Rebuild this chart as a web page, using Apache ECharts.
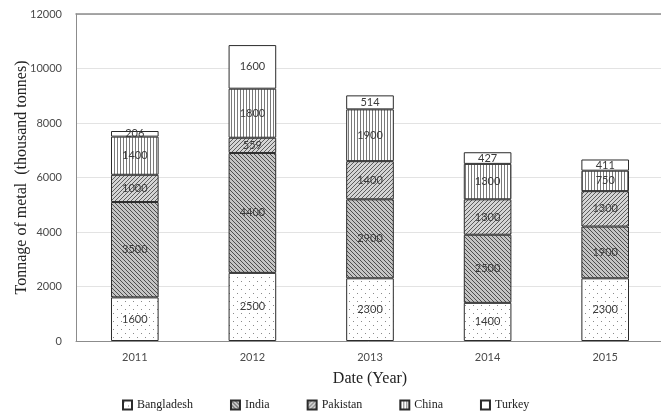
<!DOCTYPE html>
<html>
<head>
<meta charset="utf-8">
<script src="https://cdn.jsdelivr.net/npm/echarts@6/dist/echarts.min.js"></script>
<style>
  html, body { margin: 0; padding: 0; background: #fff; }
  #chart { width: 661px; height: 414px; }
</style>
</head>
<body>
<div id="chart"></div>
<script>
// Metal tonnage by country and year (thousand tonnes)
const years = ['2011', '2012', '2013', '2014', '2015'];
const bangladesh = [1600, 2500, 2300, 1400, 2300];
const india = [3500, 4400, 2900, 2500, 1900];
const pakistan = [1000, 559, 1400, 1300, 1300];
const china = [1400, 1800, 1900, 1300, 750];
const turkey = [206, 1600, 514, 427, 411];
const yTicks = [0, 2000, 4000, 6000, 8000, 10000, 12000];

// Small tiled canvases used as hatch fills
function makeTile(w, h, draw) {
  const c = document.createElement('canvas');
  c.width = w; c.height = h;
  const ctx = c.getContext('2d');
  ctx.fillStyle = '#fff';
  ctx.fillRect(0, 0, w, h);
  draw(ctx);
  return { image: c, repeat: 'repeat' };
}
const dotFill = makeTile(8, 8, ctx => {
  ctx.fillStyle = '#8a8a8a';
  ctx.fillRect(1, 1, 1, 1);
  ctx.fillRect(5, 5, 1, 1);
});
const backFill = makeTile(4, 4, ctx => {
  ctx.fillStyle = '#c4c4c4';
  ctx.fillRect(0, 0, 4, 4);
  ctx.fillStyle = '#4d4d4d';
  for (let i = 0; i < 4; i++) ctx.fillRect(i, i, 1, 1);
});
const fwdFill = makeTile(4, 4, ctx => {
  ctx.fillStyle = '#d4d4d4';
  ctx.fillRect(0, 0, 4, 4);
  ctx.fillStyle = '#5c5c5c';
  for (let i = 0; i < 4; i++) ctx.fillRect(3 - i, i, 1, 1);
});
const vertFill = makeTile(3, 1, ctx => {
  ctx.fillStyle = '#7a7a7a';
  ctx.fillRect(0, 0, 1, 1);
});

const labelStyle = {
  show: true,
  position: 'inside',
  color: '#3a3a3a',
  fontFamily: 'Lato, "Liberation Sans", sans-serif',
  fontSize: 11
};

function barSeries(name, data, fill) {
  return {
    name: name,
    type: 'bar',
    stack: 'total',
    barWidth: '40.5%',
    data: data,
    itemStyle: { color: fill, borderColor: '#2b2b2b', borderWidth: 1 },
    label: labelStyle,
    emphasis: { disabled: true }
  };
}

const chart = echarts.init(document.getElementById('chart'), null, { renderer: 'canvas' });
chart.setOption({
  animation: false,
  backgroundColor: '#fff',
  grid: { left: 76, right: -3, top: 14, bottom: 73, containLabel: false, outerBoundsMode: 'none' },
  legend: {
    left: 117,
    top: 394,
    icon: 'rect',
    itemWidth: 9,
    itemHeight: 9,
    itemGap: 37,
    textStyle: { fontFamily: '"Liberation Serif", "Times New Roman", serif', fontSize: 12, color: '#222' },
    data: ['Bangladesh', 'India', 'Pakistan', 'China', 'Turkey']
  },
  xAxis: [
    {
      type: 'category',
      data: years,
      axisLine: { lineStyle: { color: '#8c8c8c', width: 1 } },
      axisTick: { show: false },
      axisLabel: {
        color: '#4a4a4a',
        fontFamily: 'Lato, "Liberation Sans", sans-serif',
        fontSize: 11,
        margin: 11
      },
      name: 'Date (Year)',
      nameLocation: 'middle',
      nameGap: 30,
      nameTextStyle: { fontFamily: '"Liberation Serif", "Times New Roman", serif', fontSize: 16, color: '#222' }
    },
    {
      type: 'category',
      position: 'top',
      data: years,
      axisLine: { lineStyle: { color: '#8c8c8c', width: 1.5 } },
      axisTick: { show: false },
      axisLabel: { show: false }
    }
  ],
  yAxis: {
    type: 'value',
    min: yTicks[0],
    max: yTicks[yTicks.length - 1],
    interval: yTicks[1] - yTicks[0],
    axisLine: { show: true, lineStyle: { color: '#8c8c8c', width: 1 } },
    axisTick: { show: false },
    splitLine: { lineStyle: { color: '#e3e3e3', width: 1 } },
    axisLabel: {
      color: '#4a4a4a',
      fontFamily: 'Lato, "Liberation Sans", sans-serif',
      fontSize: 11,
      margin: 14,
      formatter: v => String(v)
    },
    name: 'Tonnage of metal  (thousand tonnes)',
    nameLocation: 'middle',
    nameGap: 46,
    nameMoveOverlap: false,
    nameTextStyle: { fontFamily: '"Liberation Serif", "Times New Roman", serif', fontSize: 16, color: '#222' }
  },
  series: [
    barSeries('Bangladesh', bangladesh, dotFill),
    barSeries('India', india, backFill),
    barSeries('Pakistan', pakistan, fwdFill),
    barSeries('China', china, vertFill),
    barSeries('Turkey', turkey, '#fff')
  ]
});
</script>
</body>
</html>
